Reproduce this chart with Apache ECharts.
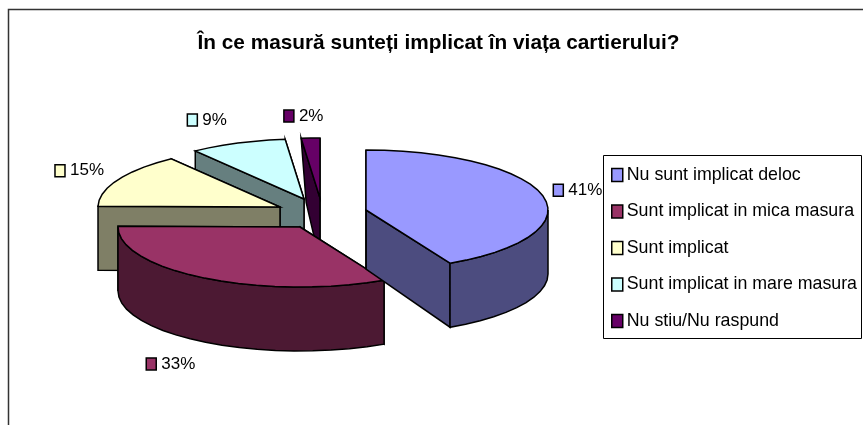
<!DOCTYPE html>
<html><head><meta charset="utf-8">
<style>html,body{margin:0;padding:0;background:#fff}#c{width:863px;height:425px}</style>
<script src="https://cdn.jsdelivr.net/npm/echarts@6/dist/echarts.min.js"></script>
</head><body><div id="c"></div>
<script>
const categories = ['Nu sunt implicat deloc','Sunt implicat in mica masura','Sunt implicat','Sunt implicat in mare masura','Nu stiu/Nu raspund'];
const values = [41,33,15,9,2];
const topColors = ['#9999FF','#993366','#FFFFCC','#CCFFFF','#660066'];
const sideColors = ['#4C4C7F','#4C1933','#7F7F66','#667F7F','#330033'];
const titleText = 'În ce masură sunteți implicat în viața cartierului?';

// layout of the exploded 3D pie
const apex = [[366,210],[300,227],[280,207],[304,199],[320,198]];
const labelOffset = [[14.5,-7],[-52.5,22],[-58,-9],[-46,-23],[-22.5,-22]];
const RX = 182, RY = 60, DEPTH = 64;
const apexDepth = [59,64,64,64,64];
const backSkew = [0,0,0,0,5];
const FONT = '"Liberation Sans", Arial, sans-serif';
const total = values.reduce((a,b)=>a+b,0);
const warp = t => t + 5*Math.sqrt(Math.abs(Math.sin(t*Math.PI/360)));   // perspective foreshortening of the view

function renderSlice(i){
  return function(params, api){
    const before = values.slice(0,i).reduce((a,b)=>a+b,0);
    const a0 = warp(before/total*360), a1 = i===values.length-1 ? 360 : warp((before+api.value(0))/total*360);
    const [cx,cy] = apex[i];
    const pt = t => {const r=t*Math.PI/180; return [cx+RX*Math.sin(r), cy-RY*Math.cos(r)];};
    const arc=(s,e)=>{const n=Math.max(2,Math.ceil((e-s)/6)),p=[];for(let k=0;k<=n;k++)p.push(pt(s+(e-s)*k/n));return p;};
    const S={stroke:'#000',lineWidth:1.5,lineJoin:'miter'};
    const poly=(points,fill)=>({type:'polygon',shape:{points},style:Object.assign({fill},S)});
    const down=(p,d,sk)=>[p[0]+(sk||0),p[1]+(d||DEPTH)];
    const kids=[];
    const ps=pt(a0), pe=pt(a1), c=[cx,cy];
    kids.push(poly([c,pe,down(pe),down(c,apexDepth[i])],sideColors[i]));
    kids.push(poly([c,ps,down(ps,DEPTH,backSkew[i]),down(c,apexDepth[i])],sideColors[i]));
    const fs=Math.max(a0,90), fe=Math.min(a1,270);
    if(fe>fs){
      const top=arc(fs,fe);
      kids.push(poly(top.concat(top.map(p=>down(p)).reverse()),sideColors[i]));
    }
    kids.push(poly([c].concat(arc(a0,a1)),topColors[i]));
    // data label with legend key
    const mid=warp((before+api.value(0)/2)/total*360), m=pt(mid);
    let ax=m[0], ay=m[1];
    if(Math.cos(mid*Math.PI/180)<0) ay+=DEPTH;
    const lx=ax+labelOffset[i][0], ly=ay+labelOffset[i][1];
    kids.push({type:'rect',z2:10,shape:{x:lx-5,y:ly-6,width:10,height:12},style:{fill:topColors[i],stroke:'#000',lineWidth:1.5}});
    kids.push({type:'text',z2:10,style:{x:lx+10,y:ly,text:Math.round(api.value(0))+'%',fill:'#000',font:'17px '+FONT,textVerticalAlign:'middle',textAlign:'left'}});
    return {type:'group',children:kids};
  };
}

// back-to-front painting
const order=[4,3,2,1,0];
const series=order.map(i=>({
  type:'custom',name:categories[i],coordinateSystem:'none',silent:true,
  itemStyle:{color:topColors[i]},
  data:[[values[i]]],renderItem:renderSlice(i),animation:false,clip:false
}));

const chart=echarts.init(document.getElementById('c'),null,{renderer:'canvas'});
chart.setOption({
  animation:false,backgroundColor:'#fff',
  title:{text:titleText,left:438.5,textAlign:'center',top:33,padding:0,
    textStyle:{fontFamily:FONT,fontSize:20.8,fontWeight:'bold',color:'#000'}},
  legend:{orient:'vertical',left:611,top:166,data:categories,icon:'rect',itemWidth:11,itemHeight:13,itemGap:18.5,padding:0,
    selectedMode:false,
    itemStyle:{borderColor:'#000',borderWidth:1.5},
    textStyle:{fontFamily:FONT,fontSize:17.8,color:'#000',padding:[0,0,0,-1]}},
  graphic:[
    {type:'polyline',z:0,shape:{points:[[863,9.5],[8.5,9.5],[8.5,425]]},style:{stroke:'#333',lineWidth:1.5,fill:null}},
    {type:'rect',z:-1,shape:{x:603.5,y:155.5,width:258,height:183},style:{fill:'#fff',stroke:'#000',lineWidth:1}}
  ],
  series
});
</script></body></html>
